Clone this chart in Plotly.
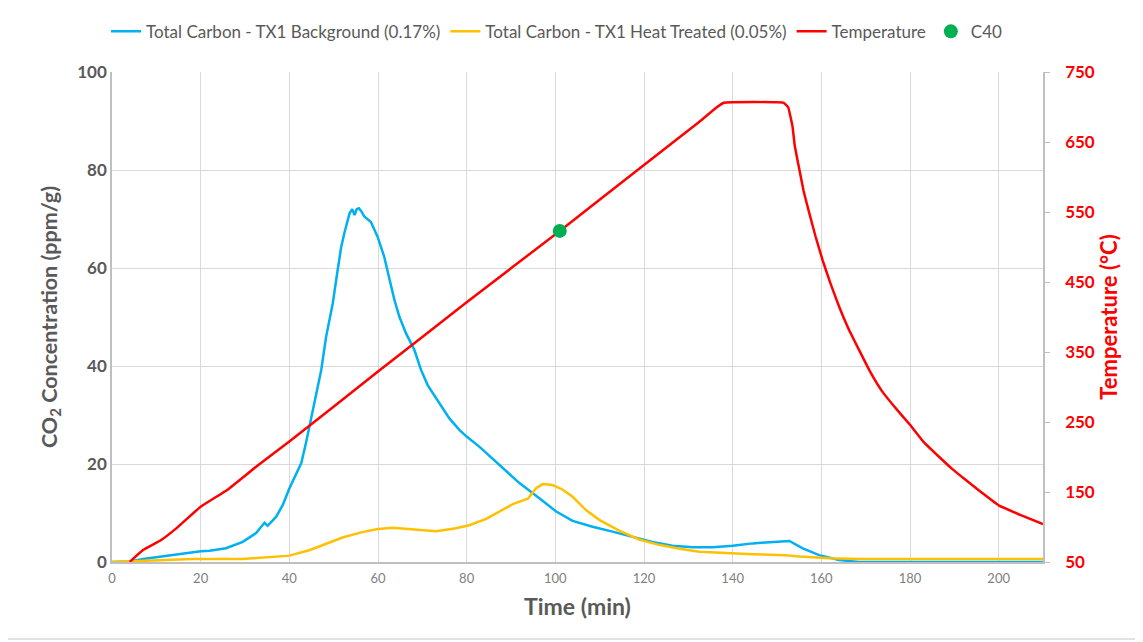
import plotly.graph_objects as go

# ---- data ----
blue_t = [0, 4, 7, 10, 14.5, 17.5, 20, 22, 25.7, 29.5, 32.5, 34.4, 35.1, 37, 38.5, 40, 41.5, 42.7, 43.8, 44.5,
          45.7, 47.2, 48.3, 49.8, 50.9, 51.7, 52.4, 53.6, 54.2, 54.7, 55.2, 55.7, 56.3, 56.9, 58.4, 59.9,
          61.4, 62.6, 63.7, 64.8, 66.3, 68.2, 69.7, 71.2, 73.5, 76.1, 78.4, 80, 82.9, 87.4, 91.9, 96.4,
          100.2, 103.9, 108.4, 112.9, 117.4, 121.9, 126.4, 131, 135.5, 140, 144.5, 149, 152.8, 155.8,
          159.5, 164, 168.5, 180, 190, 200, 210]
blue_v = [0, 0.1, 0.6, 1.0, 1.6, 2.0, 2.2, 2.3, 2.8, 4.1, 5.9, 8.0, 7.4, 9.2, 11.6, 15, 18.1, 20.2, 24.5, 27.5,
          32.4, 39.2, 46, 52.8, 59.6, 64.3, 67.1, 71.2, 72.0, 70.8, 72.0, 72.2, 71.5, 70.5, 69.4, 66.4,
          62.3, 57.6, 53.5, 50.1, 46.7, 43.3, 39.2, 36.1, 33, 29.3, 26.9, 25.6, 23.5, 19.8, 16.1, 13.0,
          10.3, 8.4, 7.2, 6.2, 5.2, 4.1, 3.3, 3.0, 3.0, 3.3, 3.8, 4.1, 4.3, 2.8,
          1.4, 0.4, 0, 0, 0, 0, 0]

yellow_t = [0, 7, 18, 29.5, 37, 40, 44.5, 49, 52, 56, 59.6, 63.3, 67.8, 73.1, 77.6, 80.6, 84.4, 87.4, 90.4,
            93.8, 95.6, 97.1, 99.4, 101.6, 103.9, 106.9, 109.9, 114.4, 118.9, 123.4, 128, 132.5, 138.5,
            144.5, 152, 155, 161.8, 168.5, 180, 190, 200, 210]
yellow_v = [0, 0.2, 0.6, 0.6, 1.0, 1.3, 2.4, 4.0, 5.0, 6.0, 6.7, 7.0, 6.7, 6.3, 6.9, 7.5, 8.8, 10.3, 11.8,
            12.9, 15.0, 15.9, 15.7, 14.8, 13.3, 10.6, 8.6, 6.4, 4.6, 3.5, 2.7, 2.1, 1.8,
            1.6, 1.4, 1.1, 0.75, 0.6, 0.6, 0.6, 0.6, 0.6]

temp_t = [4, 7, 11, 14.5, 20, 26, 32.5, 40, 60, 80, 101, 120, 132.5, 136.5, 138, 151.5, 152.5, 153.5, 154,
          155, 156, 157.3, 158.7, 160.3, 162, 164, 166, 168.5, 171, 173.8, 177, 180, 183, 186.6, 189.5,
          192.6, 196, 200, 205, 210]
temp_v = [50, 67, 81, 98, 129, 153, 186, 222, 322, 421, 523, 617, 679, 700, 706, 706, 700, 672, 645,
          612, 580, 548, 515, 481, 449, 415, 385, 353, 322, 293, 268, 246, 222, 200, 183,
          167, 150, 131, 117, 104]

c40_t = [101]
c40_v = [523]

x_ticks = list(range(0, 201, 20))
y_ticks = list(range(0, 101, 20))
y2_ticks = list(range(50, 751, 100))

GRAY = "#595959"
FONT = "Lato, 'Open Sans', sans-serif"

fig = go.Figure()
fig.add_trace(go.Scatter(x=blue_t, y=blue_v, mode="lines", name="Total Carbon - TX1 Background (0.17%)",
                         line=dict(color="#00B0F0", width=2.5)))
fig.add_trace(go.Scatter(x=yellow_t, y=yellow_v, mode="lines", name="Total Carbon - TX1 Heat Treated (0.05%)",
                         line=dict(color="#FFC000", width=2.5)))
fig.add_trace(go.Scatter(x=temp_t, y=temp_v, mode="lines", name="Temperature", yaxis="y2",
                         line=dict(color="#FF0000", width=2.5, shape="spline", smoothing=0.3)))
fig.add_trace(go.Scatter(x=c40_t, y=c40_v, mode="markers", name="C40", yaxis="y2",
                         marker=dict(color="#00B050", size=14)))

# page has an 8px body margin; margins below compensate so the plot area lands at x 112-1043, y 72-562
fig.update_layout(
    width=1143, height=642,
    margin=dict(l=104, r=108, t=64, b=88, autoexpand=False),
    paper_bgcolor="white", plot_bgcolor="white",
    font=dict(family=FONT, color=GRAY),
    showlegend=True,
    legend=dict(orientation="h", x=0.478, y=1.082, xanchor="center", yanchor="middle",
                font=dict(size=17, color=GRAY), tracegroupgap=0),
    xaxis=dict(range=[0, 210], tickvals=x_ticks, showgrid=True, gridcolor="#D9D9D9", gridwidth=1,
               showline=True, linecolor="#BFBFBF", linewidth=1.5, zeroline=False,
               tickfont=dict(size=13, color="#808080"), ticks="", ticklabelstandoff=4,
               title=dict(text="Time (min)", font=dict(size=23, color=GRAY, weight="bold"), standoff=14)),
    yaxis=dict(range=[0, 100], tickvals=y_ticks, showgrid=True, gridcolor="#D9D9D9", gridwidth=1,
               showline=True, linecolor="#BFBFBF", linewidth=1.5, zeroline=False,
               tickfont=dict(size=17, color=GRAY, weight="bold"),
               title=dict(text="CO<sub>2</sub> Concentration (ppm/g)",
                          font=dict(size=21.5, color=GRAY, weight="bold"), standoff=14)),
    yaxis2=dict(range=[50, 750], tickvals=y2_ticks,
                ticktext=["\u2007\u2009" + str(v) for v in y2_ticks],
                overlaying="y", side="right", showgrid=False,
                showline=True, linecolor="#BFBFBF", linewidth=1.5, zeroline=False,
                ticks="outside", ticklen=5, tickcolor="#BFBFBF",
                tickfont=dict(size=17, color="#FF0000", weight="bold"),
                title=dict(text="Temperature (°C)", font=dict(size=22, color="#FF0000", weight="bold"),
                           standoff=7)),
    shapes=[dict(type="rect", xref="paper", yref="paper", x0=-0.117, x1=1.104, y0=-0.157, y1=1.141,
                 line=dict(color="#D9D9D9", width=1.5), fillcolor="rgba(0,0,0,0)", layer="below")],
)

fig.write_html("out.html")
